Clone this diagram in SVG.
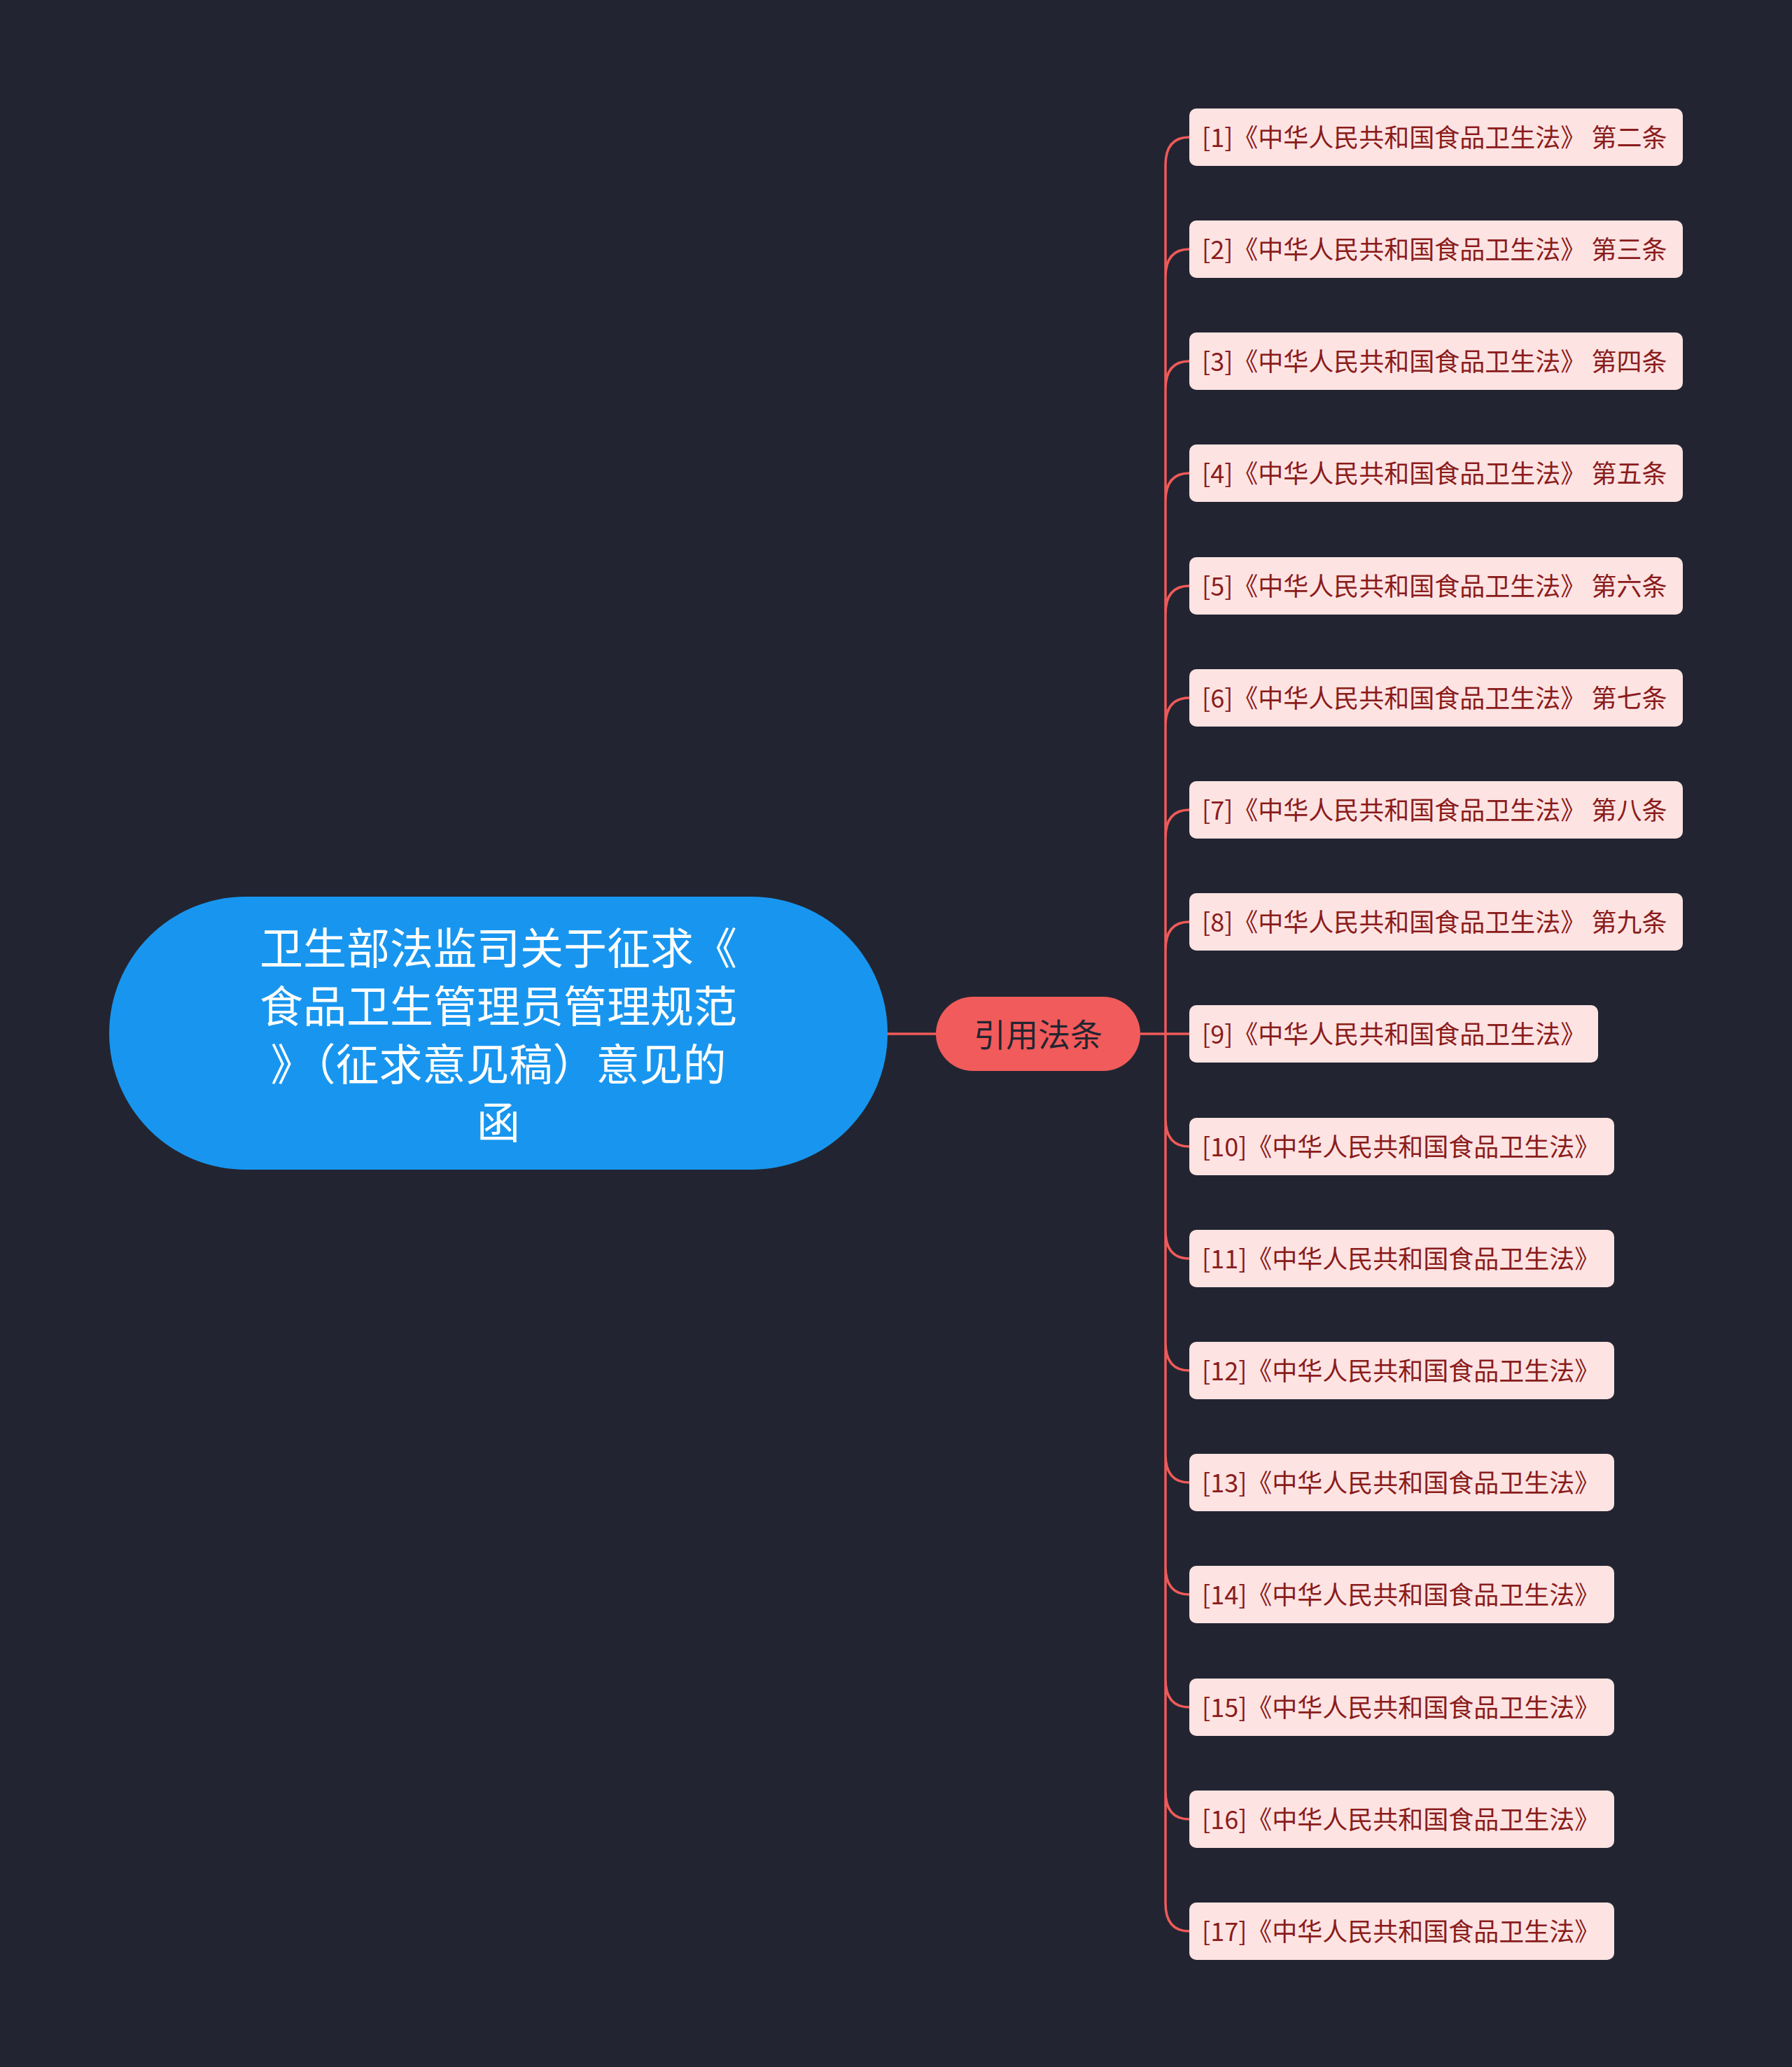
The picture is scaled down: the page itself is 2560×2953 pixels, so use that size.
<svg xmlns="http://www.w3.org/2000/svg" width="2560" height="2953" viewBox="0 0 2560 2953">
<style>
.leaf rect{fill:#fde3e2;}
.leaf text{font-family:"Noto Sans CJK SC","Noto Sans",sans-serif;font-size:36px;fill:#8a1c1c;dominant-baseline:central;}
.ln{fill:none;stroke:#f05a5a;stroke-width:3.5;}
</style>
<rect width="2560" height="2953" fill="#222531"/>
<g id="connectors">
<path class="ln" d="M1268 1477 L1337 1477 M1629 1477 L1665 1477"/>
<path class="ln" d="M1665 1477 L1665 236 Q1665 196 1699 196 M1665 1477 L1665 396 Q1665 356 1699 356 M1665 1477 L1665 556 Q1665 516 1699 516 M1665 1477 L1665 716 Q1665 676 1699 676 M1665 1477 L1665 877 Q1665 837 1699 837 M1665 1477 L1665 1037 Q1665 997 1699 997 M1665 1477 L1665 1197 Q1665 1157 1699 1157 M1665 1477 L1665 1357 Q1665 1317 1699 1317 M1665 1477 L1699 1477 M1665 1477 L1665 1598 Q1665 1638 1699 1638 M1665 1477 L1665 1758 Q1665 1798 1699 1798 M1665 1477 L1665 1918 Q1665 1958 1699 1958 M1665 1477 L1665 2078 Q1665 2118 1699 2118 M1665 1477 L1665 2238 Q1665 2278 1699 2278 M1665 1477 L1665 2399 Q1665 2439 1699 2439 M1665 1477 L1665 2559 Q1665 2599 1699 2599 M1665 1477 L1665 2719 Q1665 2759 1699 2759"/>
</g>
<g id="root">
<rect x="156" y="1281" width="1112" height="390" rx="195" fill="#1896ef"/>
<g font-family="Noto Sans CJK SC,sans-serif" font-size="62" fill="#ffffff" text-anchor="middle" dominant-baseline="central">
<text x="712" y="1351">卫生部法监司关于征求《</text>
<text x="712" y="1434">食品卫生管理员管理规范</text>
<text x="712" y="1517">》（征求意见稿）意见的</text>
<text x="712" y="1600">函</text>
</g>
</g>
<g id="mid">
<rect x="1337" y="1424" width="292" height="106" rx="53" fill="#f25b5b"/>
<text x="1483" y="1475" font-family="Noto Sans CJK SC,sans-serif" font-size="46" fill="#222531" text-anchor="middle" dominant-baseline="central">引用法条</text>
</g>
<g id="n1" class="leaf"><rect x="1699" y="155" width="705" height="82" rx="10"/><text x="1717" y="194">[1]《中华人民共和国食品卫生法》 第二条</text></g>
<g id="n2" class="leaf"><rect x="1699" y="315" width="705" height="82" rx="10"/><text x="1717" y="354">[2]《中华人民共和国食品卫生法》 第三条</text></g>
<g id="n3" class="leaf"><rect x="1699" y="475" width="705" height="82" rx="10"/><text x="1717" y="514">[3]《中华人民共和国食品卫生法》 第四条</text></g>
<g id="n4" class="leaf"><rect x="1699" y="635" width="705" height="82" rx="10"/><text x="1717" y="674">[4]《中华人民共和国食品卫生法》 第五条</text></g>
<g id="n5" class="leaf"><rect x="1699" y="796" width="705" height="82" rx="10"/><text x="1717" y="835">[5]《中华人民共和国食品卫生法》 第六条</text></g>
<g id="n6" class="leaf"><rect x="1699" y="956" width="705" height="82" rx="10"/><text x="1717" y="995">[6]《中华人民共和国食品卫生法》 第七条</text></g>
<g id="n7" class="leaf"><rect x="1699" y="1116" width="705" height="82" rx="10"/><text x="1717" y="1155">[7]《中华人民共和国食品卫生法》 第八条</text></g>
<g id="n8" class="leaf"><rect x="1699" y="1276" width="705" height="82" rx="10"/><text x="1717" y="1315">[8]《中华人民共和国食品卫生法》 第九条</text></g>
<g id="n9" class="leaf"><rect x="1699" y="1436" width="584" height="82" rx="10"/><text x="1717" y="1475">[9]《中华人民共和国食品卫生法》</text></g>
<g id="n10" class="leaf"><rect x="1699" y="1597" width="607" height="82" rx="10"/><text x="1717" y="1636">[10]《中华人民共和国食品卫生法》</text></g>
<g id="n11" class="leaf"><rect x="1699" y="1757" width="607" height="82" rx="10"/><text x="1717" y="1796">[11]《中华人民共和国食品卫生法》</text></g>
<g id="n12" class="leaf"><rect x="1699" y="1917" width="607" height="82" rx="10"/><text x="1717" y="1956">[12]《中华人民共和国食品卫生法》</text></g>
<g id="n13" class="leaf"><rect x="1699" y="2077" width="607" height="82" rx="10"/><text x="1717" y="2116">[13]《中华人民共和国食品卫生法》</text></g>
<g id="n14" class="leaf"><rect x="1699" y="2237" width="607" height="82" rx="10"/><text x="1717" y="2276">[14]《中华人民共和国食品卫生法》</text></g>
<g id="n15" class="leaf"><rect x="1699" y="2398" width="607" height="82" rx="10"/><text x="1717" y="2437">[15]《中华人民共和国食品卫生法》</text></g>
<g id="n16" class="leaf"><rect x="1699" y="2558" width="607" height="82" rx="10"/><text x="1717" y="2597">[16]《中华人民共和国食品卫生法》</text></g>
<g id="n17" class="leaf"><rect x="1699" y="2718" width="607" height="82" rx="10"/><text x="1717" y="2757">[17]《中华人民共和国食品卫生法》</text></g>
</svg>
